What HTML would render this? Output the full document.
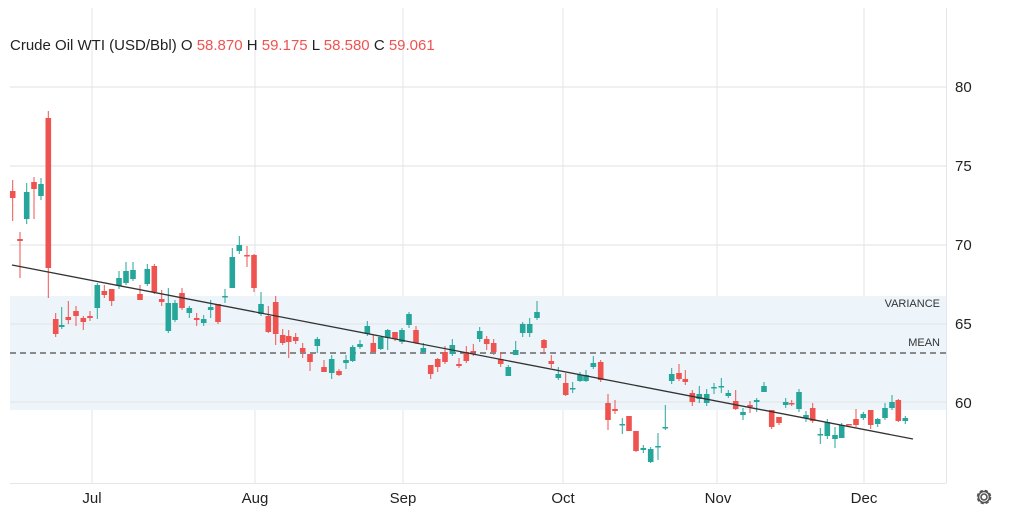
<!DOCTYPE html>
<html><head><meta charset="utf-8"><style>
html,body{margin:0;padding:0;background:#fff;width:1023px;height:515px;overflow:hidden;font-family:"Liberation Sans",sans-serif}
</style></head><body>
<svg id="c" width="1023" height="515" xmlns="http://www.w3.org/2000/svg" style="position:absolute;left:0;top:0">
<rect x="0" y="0" width="1023" height="515" fill="#fff"/>
<g stroke="#e3e6ea" stroke-width="1">
<line x1="92" y1="8" x2="92" y2="483"/><line x1="255" y1="8" x2="255" y2="483"/><line x1="403" y1="8" x2="403" y2="483"/><line x1="563" y1="8" x2="563" y2="483"/><line x1="717" y1="8" x2="717" y2="483"/><line x1="864" y1="8" x2="864" y2="483"/>
</g>
<rect x="10" y="296" width="936" height="114" fill="#edf5fa"/>
<g stroke="#dfe2e6" stroke-width="1">
<line x1="10" y1="87" x2="946" y2="87"/><line x1="10" y1="166" x2="946" y2="166"/><line x1="10" y1="245" x2="946" y2="245"/><line x1="10" y1="324" x2="946" y2="324"/><line x1="10" y1="402" x2="946" y2="402"/>
</g>
<line x1="10" y1="353" x2="946" y2="353" stroke="#666" stroke-width="1.5" stroke-dasharray="6,4"/>
<line x1="946.5" y1="8" x2="946.5" y2="483" stroke="#e3e6ea"/>
<line x1="10" y1="483.5" x2="946" y2="483.5" stroke="#e3e6ea"/>
<g id="candles"></g>
<line x1="12" y1="265" x2="913" y2="439" stroke="#333" stroke-width="1.3"/>
<g font-size="15" fill="#222">
<text x="955" y="92">80</text><text x="955" y="171">75</text><text x="955" y="250">70</text><text x="955" y="329">65</text><text x="955" y="408">60</text>
</g>
<g font-size="15" fill="#222" text-anchor="middle">
<text x="92" y="503">Jul</text><text x="255" y="503">Aug</text><text x="403" y="503">Sep</text><text x="563" y="503">Oct</text><text x="718" y="503">Nov</text><text x="864" y="503">Dec</text>
</g>
<g font-size="11" fill="#333" text-anchor="end">
<text x="940" y="307">VARIANCE</text><text x="940" y="346">MEAN</text>
</g>
<text x="10" y="50" font-size="15" fill="#222">Crude Oil WTI (USD/Bbl) O <tspan fill="#ef5350">58.870</tspan> H <tspan fill="#ef5350">59.175</tspan> L <tspan fill="#ef5350">58.580</tspan> C <tspan fill="#ef5350">59.061</tspan></text>
<g transform="translate(984,497)" fill="none" stroke="#555" stroke-width="1.6">
<circle r="3"/><circle r="6.5" stroke-dasharray="3.2,2"/><circle r="5.5"/>
</g>
</svg>
<script>
var d=[
[12.7,'r',191,198,180,221],[20,'r',239,241,232,278],[26.7,'g',192,219,183,224],[34,'r',182,189,177,219],[41,'g',184,196,178,200],[48.3,'r',118,268,111,298],
[55.7,'r',319,334,313,337],[61.7,'g',325,327,307,329],[68.3,'r',317,320,301,324],[76,'r',311,316,306,326],[83.3,'r',318,322,316,330],[90,'r',316,318,311,321],
[97.3,'g',285,308,283,319],[104.3,'r',291,295,285,298],[111.7,'r',289,301,289,306],[119,'g',278,286,271,289],[126,'g',271,283,262,285],[133,'g',270,279,262,281],
[140,'r',294,300,285,300],[147.3,'g',269,284,264,286],[154.3,'r',266,292,264,294],[161.7,'r',299,302,290,306],[168.3,'g',303,331,288,333],[175,'g',303,320,300,322],
[182,'r',293,308,288,310],[189.3,'g',308,313,306,318],[196.7,'r',318,320,313,326],[203.7,'g',319,323,315,326],[210.7,'g',307,310,300,318],[218,'r',304,322,304,324],
[225,'g',296,297,289,303],[232.3,'g',257,288,248,288],[239.3,'g',245,251,236,254],[247,'r',255,256,246,267],[254,'r',255,288,254,292],[261,'g',304,314,292,316],
[268.3,'r',316,332,306,333],[275.7,'r',302,334,296,345],[282.7,'r',335,343,329,345],[288.7,'r',336,342,330,358],[295.7,'r',337,341,333,344],[302.7,'r',348,352,343,358],
[310,'r',354,362,354,371],[317.3,'g',339,346,337,353],[324,'r',367,372,360,372],[331.7,'g',359,373,355,379],[339,'r',371,375,369,376],[346,'g',360,363,355,369],
[352.7,'g',347,361,345,362],[360,'g',344,347,340,349],[367.3,'g',326,334,321,336],[373.3,'r',343,352,335,352],[380.7,'g',337,349,337,350],[387.7,'g',330,338,329,350],
[395,'r',332,339,332,341],[402,'g',330,342,328,344],[409,'g',314,325,312,328],[416,'r',330,343,326,344],[423.3,'g',348,352,343,354],[430.7,'r',365,374,365,379],
[437.7,'r',359,367,358,372],[445,'r',352,362,346,364],[452.3,'g',345,354,339,356],[459,'r',364,366,358,368],[466.3,'r',352,361,346,363],[473.3,'r',351,352,344,356],
[479.7,'g',331,339,327,342],[486.7,'r',339,344,336,350],[493.7,'r',343,352,339,355],[500.7,'r',359,364,352,367],[508.3,'g',367,376,365,376],[515.7,'g',350,355,341,355],
[522.7,'g',324,333,322,337],[529.7,'g',324,333,318,337],[537,'g',312,318,301,320],[544,'r',340,348,339,354],[551.3,'r',361,364,355,368],[558.3,'g',374,378,367,380],
[565.7,'r',383,395,373,396],[572.7,'g',388,389,382,393],[580,'g',375,381,372,382],[586,'g',375,381,370,382],[593.3,'g',363,367,356,369],[600.7,'r',362,380,360,382],
[608,'r',403,420,394,430],[615,'r',409,411,400,414],[622.3,'g',424,425,418,434],[629,'r',416,431,416,431],[636,'r',431,451,431,452],[643.3,'g',448,450,445,453],
[650.7,'g',449,462,447,463],[658,'g',446,447,433,460],[665.3,'g',427,428,405,430],[671.7,'g',374,381,368,384],[679,'r',373,379,364,381],[685.3,'r',379,382,370,385],
[692.3,'r',393,402,390,406],[699.3,'g',394,399,386,403],[706.7,'g',394,403,389,406],[714,'g',387,388,383,394],[721.3,'g',386,387,378,393],[728.3,'g',393,396,390,398],
[735.7,'r',401,409,390,410],[743,'g',412,415,408,420],[750,'r',405,407,401,413],[756.7,'g',400,402,398,412],[764,'g',386,392,382,392],[771.7,'r',410,427,410,429],
[779,'r',417,423,417,425],[785.7,'g',402,405,398,408],[791.7,'r',403,404,400,406],[799,'g',392,409,389,412],[806,'g',415,418,411,422],[812.7,'r',408,421,403,423],
[820.3,'g',434,435,428,444],[827.3,'g',422,436,419,439],[835,'g',435,439,427,448],[841.7,'g',425,438,423,438],[849,'r',424,425,424,425],[856,'r',419,425,409,427],
[863.3,'g',414,418,412,420],[870.7,'r',410,425,410,429],[877.7,'g',419,424,418,427],[885,'g',408,418,403,420],[892,'g',402,408,395,410],[898.3,'r',400,421,399,422],
[905.3,'g',418,421,416,424]];
var s='';
d.forEach(function(c){var col=c[1]=='g'?'#26a69a':'#ef5350';var x=c[0];var t=Math.min(c[2],c[3]),b=Math.max(c[2],c[3]);if(b-t<1.5)b=t+1.5;
s+='<line x1="'+x+'" y1="'+c[4]+'" x2="'+x+'" y2="'+c[5]+'" stroke="'+col+'" stroke-width="1"/>';
s+='<rect x="'+(x-2.8)+'" y="'+t+'" width="5.6" height="'+(b-t)+'" fill="'+col+'"/>';});
document.getElementById('candles').innerHTML=s;
</script>
</body></html>
